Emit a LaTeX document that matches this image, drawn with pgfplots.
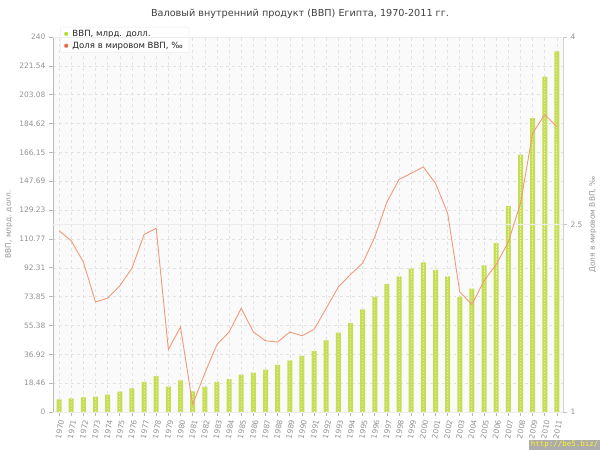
\documentclass[border=0pt]{standalone}
\usepackage{pgfplots}
\pgfplotsset{compat=1.18}
\usepackage{fontspec}
\setmainfont{DejaVu Sans}
\newfontfamily\monofont{DejaVu Sans Mono}

\definecolor{barcol}{HTML}{C5DE55}
\definecolor{linecol}{HTML}{F09A78}
\definecolor{legg}{HTML}{B5D930}
\definecolor{lego}{HTML}{E8643C}
\newcommand{\tickfont}{\fontsize{7.5}{9}\selectfont}
\newcommand{\legfont}{\fontsize{8.6}{10}\selectfont}

\begin{document}
\begin{tikzpicture}
\path[use as bounding box] (0,0) rectangle (600bp,450bp);
\fill[white] (0,0) rectangle (600bp,450bp);

% left axis: GDP, bn USD
\begin{axis}[
  at={(53bp,38bp)}, anchor=south west,
  width=510bp, height=375bp, scale only axis,
  xmin=1969.5, xmax=2011.5, ymin=0, ymax=240,
  axis lines*=left,
  axis line style={draw=gray!55, line width=0.8pt},
  axis background/.style={fill=gray!4},
  xtick={1970,...,2011},
  xticklabel style={rotate=80, anchor=east, yshift=-3bp, font=\tickfont, text=gray!85,
    /pgf/number format/1000 sep={}},
  ytick={0,18.46,36.92,55.38,73.85,92.31,110.77,129.23,147.69,166.15,184.62,203.08,221.54,240},
  yticklabels={0,18.46,36.92,55.38,73.85,92.31,110.77,129.23,147.69,166.15,184.62,203.08,221.54,240},
  yticklabel style={font=\tickfont, text=gray!85},
  /pgf/number format/assume math mode=true,
  tick align=outside, major tick length=4bp,
  tick style={draw=gray!55, line width=0.6pt},
  grid=major, major grid style={dashed, gray!22, line width=0.5pt},
  ylabel={ВВП, млрд. долл.},
  ylabel style={font=\tickfont, text=gray!85},
  legend style={at={(rel axis cs:0.014,1.027)}, anchor=north west,
    draw=gray!15, fill=white, rounded corners=2pt, font=\legfont, text=black!85,
    row sep=0pt, inner xsep=4pt, inner ysep=1pt, cells={anchor=west},
    /tikz/every odd column/.append style={column sep=2.5pt}},
]
\addlegendimage{legend image code/.code={\fill[legg] (0pt,-1.6pt) rectangle (3.3pt,1.7pt);}}
\addlegendentry{ВВП, млрд. долл.}
\addlegendimage{legend image code/.code={\fill[lego] (0pt,-1.6pt) rectangle (3.3pt,1.7pt);}}
\addlegendentry{Доля в мировом ВВП, ‰}

\addplot[ybar, bar width=5bp, fill=barcol, draw=none, forget plot] coordinates {
(1970,8.1) (1971,8.7) (1972,9.3) (1973,9.8) (1974,11.1) (1975,13.0)
(1976,15.1) (1977,19.2) (1978,23.0) (1979,16.2) (1980,20.2) (1981,13.2)
(1982,16.2) (1983,19.2) (1984,21.1) (1985,23.9) (1986,25.2) (1987,27.1)
(1988,30.1) (1989,33.0) (1990,35.9) (1991,39.0) (1992,45.9) (1993,50.8)
(1994,56.8) (1995,65.7) (1996,73.8) (1997,81.9) (1998,86.8) (1999,91.7)
(2000,95.8) (2001,90.9) (2002,86.8) (2003,73.8) (2004,78.9) (2005,93.9)
(2006,108.0) (2007,131.8) (2008,164.7) (2009,188.0) (2010,214.6) (2011,230.8)
};
\addplot[ycomb, draw=white, opacity=0.5, dash pattern=on 1.5pt off 1.5pt,
  line width=0.9pt, mark=none, forget plot] coordinates {
(1970,8.1) (1971,8.7) (1972,9.3) (1973,9.8) (1974,11.1) (1975,13.0)
(1976,15.1) (1977,19.2) (1978,23.0) (1979,16.2) (1980,20.2) (1981,13.2)
(1982,16.2) (1983,19.2) (1984,21.1) (1985,23.9) (1986,25.2) (1987,27.1)
(1988,30.1) (1989,33.0) (1990,35.9) (1991,39.0) (1992,45.9) (1993,50.8)
(1994,56.8) (1995,65.7) (1996,73.8) (1997,81.9) (1998,86.8) (1999,91.7)
(2000,95.8) (2001,90.9) (2002,86.8) (2003,73.8) (2004,78.9) (2005,93.9)
(2006,108.0) (2007,131.8) (2008,164.7) (2009,188.0) (2010,214.6) (2011,230.8)
};
\end{axis}

% right axis: share of world GDP, per mille
\begin{axis}[
  at={(53bp,38bp)}, anchor=south west,
  width=510bp, height=375bp, scale only axis,
  xmin=1969.5, xmax=2011.5, ymin=1, ymax=4,
  axis x line=none, axis y line*=right,
  axis line style={draw=gray!35, line width=0.6pt},
  ytick={1,2.5,4},
  yticklabel style={font=\tickfont, text=gray!85},
  /pgf/number format/assume math mode=true,
  tick align=outside, major tick length=4bp,
  tick style={draw=gray!45, line width=0.6pt},
  ymajorgrids, major grid style={gray!15, line width=0.5pt},
  ylabel={Доля в мировом ВВП, ‰},
  ylabel style={font=\tickfont, text=gray!85},
]
\addplot[linecol, line width=0.9pt, mark=none] coordinates {
(1970,2.45) (1971,2.37) (1972,2.20) (1973,1.88) (1974,1.91) (1975,2.01)
(1976,2.15) (1977,2.42) (1978,2.47) (1979,1.50) (1980,1.68) (1981,1.06)
(1982,1.31) (1983,1.54) (1984,1.64) (1985,1.83) (1986,1.64) (1987,1.57)
(1988,1.56) (1989,1.64) (1990,1.61) (1991,1.66) (1992,1.83) (1993,2.00)
(1994,2.10) (1995,2.19) (1996,2.40) (1997,2.68) (1998,2.86) (1999,2.91)
(2000,2.96) (2001,2.83) (2002,2.59) (2003,1.96) (2004,1.86) (2005,2.05)
(2006,2.18) (2007,2.36) (2008,2.67) (2009,3.23) (2010,3.38) (2011,3.28)
};
\end{axis}

\node[text=black!75, font=\fontsize{9.7}{11}\selectfont] at (300bp,436bp)
  {Валовый внутренний продукт (ВВП) Египта, 1970-2011 гг.};
\node[anchor=south east, fill=gray!65, text=yellow!85!white, inner sep=1.5pt,
  font=\monofont\fontsize{7.5}{8}\selectfont] at (600bp,0) {http://be5.biz/};
\end{tikzpicture}
\end{document}
